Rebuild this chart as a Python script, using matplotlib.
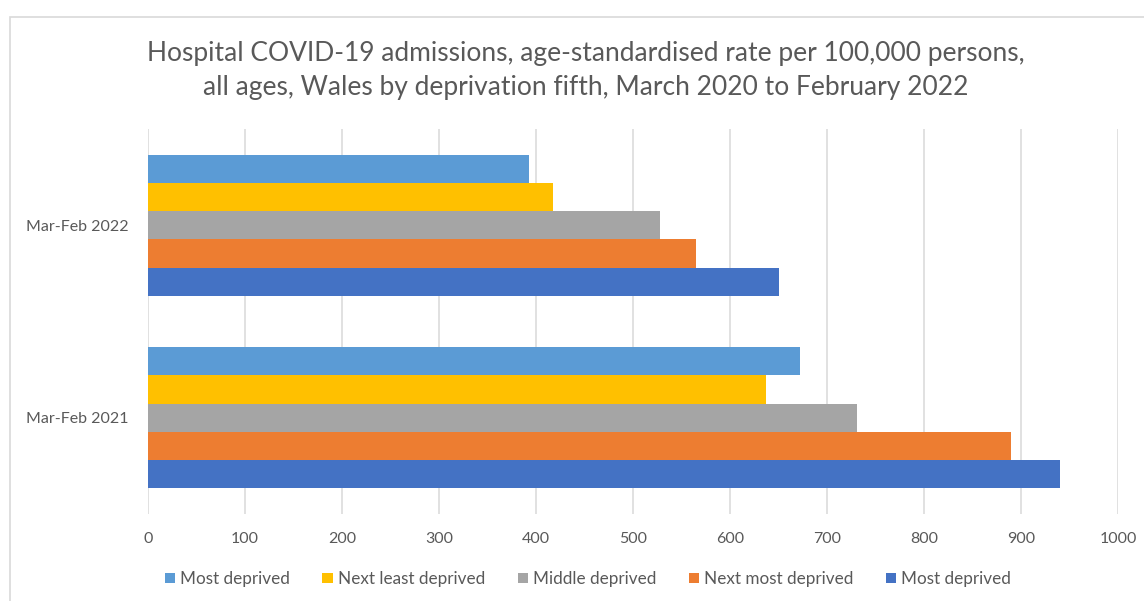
import matplotlib.pyplot as plt
import numpy as np
from matplotlib.patches import Rectangle

# categories (bottom to top) and one value list per series
categories = ['Mar-Feb 2021', 'Mar-Feb 2022']
series_names = ['Most deprived', 'Next least deprived', 'Middle deprived',
                'Next most deprived', 'Most deprived']
light_blue_vals = [672, 393]
yellow_vals = [637, 418]
grey_vals = [731, 528]
orange_vals = [890, 565]
blue_vals = [940, 650]
x_ticks = [0, 100, 200, 300, 400, 500, 600, 700, 800, 900, 1000]

colors = ['#5B9BD5', '#FFC000', '#A5A5A5', '#ED7D31', '#4472C4']
all_vals = [light_blue_vals, yellow_vals, grey_vals, orange_vals, blue_vals]

text_col = '#595959'
plt.rcParams['font.family'] = ['Lato', 'DejaVu Sans']

fig = plt.figure(figsize=(11.44, 6.01), dpi=100)
ax = fig.add_axes([148 / 1144, 1 - 514 / 601, 970 / 1144, 385 / 601])

# chart frame
fig.patches.append(Rectangle((10 / 1144, -0.1), 1.2, 1 - 17 / 601 + 0.1,
                             transform=fig.transFigure, fill=False,
                             edgecolor='#D9D9D9', linewidth=1.2))

y = np.arange(len(categories))
h = 0.1465
for i, (name, vals) in enumerate(zip(series_names, all_vals)):
    ax.barh(y + (2 - i) * h, vals, height=h, color=colors[i], label=name,
            zorder=3, linewidth=0)

ax.set_xlim(0, 1000)
ax.set_ylim(-0.5, 1.5)
ax.set_xticks(x_ticks)
ax.set_xticklabels([str(t) for t in x_ticks])
ax.set_yticks(y)
ax.set_yticklabels(categories)
ax.tick_params(axis='both', length=0, labelsize=11.5, colors=text_col)
ax.tick_params(axis='x', pad=13)
ax.tick_params(axis='y', pad=14)
ax.grid(axis='x', color='#D9D9D9', linewidth=1.1, zorder=0)
for s in ax.spines.values():
    s.set_visible(False)

fig.text(0.512, 1 - 53 / 601,
         'Hospital COVID-19 admissions, age-standardised rate per 100,000 persons,',
         ha='center', va='center', fontsize=19, color=text_col)
fig.text(0.512, 1 - 88 / 601,
         'all ages, Wales by deprivation fifth, March 2020 to February 2022',
         ha='center', va='center', fontsize=19, color=text_col)

fig.legend(loc='center', bbox_to_anchor=(0.514, 1 - 579 / 601), ncol=5,
           frameon=False, fontsize=12.3, labelcolor=text_col,
           handlelength=0.6, handleheight=0.6, handletextpad=0.3,
           columnspacing=1.9)

fig.savefig('out.png', dpi=100)
